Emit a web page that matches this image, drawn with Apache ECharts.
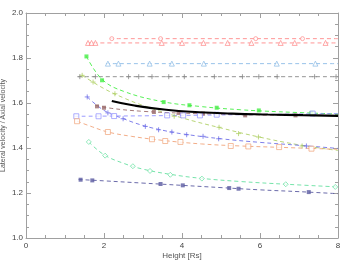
<!DOCTYPE html>
<html><head><meta charset="utf-8">
<script src="https://cdn.jsdelivr.net/npm/echarts@6/dist/echarts.min.js"></script>
<style>html,body{margin:0;padding:0;background:#fff}#c{width:341px;height:263px}</style>
</head><body><div id="c"></div>
<script>
const xTicks = [0, 2, 4, 6, 8];
const yTicks = [1.0, 1.2, 1.4, 1.6, 1.8, 2.0];

// marker points and fitted (dashed) curves for each run
const redCircPts = [[2.2,1.886],[3.45,1.886],[5.89,1.886],[7.09,1.886]];
const redCircFit = [[2.15,1.886],[8,1.886]];
const redTriPts = [[1.59,1.867],[1.68,1.867],[1.78,1.867],[3.48,1.867],[4.0,1.867],[4.55,1.867],[5.17,1.867],[5.78,1.867],[6.53,1.867],[6.89,1.867],[7.68,1.867]];
const redTriFit = [[1.55,1.867],[8,1.867]];
const blueTriPts = [[2.1,1.775],[2.37,1.775],[3.17,1.775],[3.74,1.775],[4.56,1.775],[6.43,1.775],[7.42,1.775]];
const blueTriFit = [[2.05,1.775],[8,1.775]];
const grayPlusPts = [[1.38,1.717],[1.78,1.717],[2.63,1.717],[2.89,1.717],[3.23,1.717],[3.66,1.717],[4.06,1.717],[4.83,1.717],[5.55,1.717],[5.97,1.717],[6.44,1.717],[7.40,1.717],[7.95,1.717]];
const grayPlusFit = [[1.33,1.717],[8,1.717]];
const greenPts = [[1.55,1.807],[1.95,1.701],[3.53,1.604],[4.19,1.590],[4.89,1.579],[5.97,1.567],[7.32,1.556]];
const greenFit = [[1.55,1.807],[1.95,1.705],[2.5,1.652],[3.5,1.606],[4.5,1.584],[5.5,1.570],[6.5,1.561],[8,1.551]];
const olivePts = [[1.44,1.723],[1.72,1.693],[2.28,1.641],[3.80,1.541],[4.95,1.492],[5.45,1.464],[5.96,1.449],[7.08,1.409]];
const oliveFit = [[1.44,1.723],[2.0,1.664],[2.5,1.623],[3.0,1.589],[4.0,1.534],[5.0,1.489],[6.0,1.448],[7.0,1.414],[8,1.389]];
const brownPts = [[1.82,1.585],[2.0,1.579],[3.28,1.560],[3.91,1.556],[4.54,1.553],[5.62,1.545],[6.91,1.545]];
const brownFit = [[1.78,1.590],[2.2,1.576],[3.0,1.563],[4.0,1.555],[5.0,1.550],[6.0,1.547],[8,1.544]];
const blueStarPts = [[1.57,1.627],[2.1,1.556],[2.49,1.530],[3.06,1.496],[3.40,1.481],[3.74,1.471],[4.12,1.459],[4.54,1.452],[4.94,1.441],[7.19,1.409]];
const blueStarFit = [[1.57,1.627],[2.0,1.567],[2.5,1.530],[3.0,1.500],[3.5,1.479],[4.0,1.463],[5.0,1.441],[6.0,1.425],[7.0,1.412],[8,1.398]];
const blueSqPts = [[1.29,1.541],[1.86,1.541],[2.26,1.542],[3.62,1.545],[4.03,1.545],[4.46,1.545],[4.89,1.548],[7.35,1.553]];
const blueSqFit = [[1.25,1.541],[3.0,1.543],[5.0,1.547],[8,1.553]];
const orangePts = [[1.31,1.519],[2.10,1.471],[3.23,1.439],[3.57,1.431],[3.96,1.427],[5.25,1.409],[5.70,1.407],[6.49,1.404],[7.32,1.397]];
const orangeFit = [[1.31,1.519],[1.7,1.494],[2.1,1.471],[2.7,1.452],[3.5,1.434],[4.5,1.418],[5.5,1.409],[6.5,1.403],[8,1.394]];
const mintPts = [[1.61,1.427],[2.03,1.366],[2.74,1.319],[3.18,1.298],[3.70,1.281],[4.51,1.264],[6.66,1.239],[7.93,1.227]];
const mintFit = [[1.61,1.427],[2.0,1.370],[2.5,1.332],[3.0,1.306],[3.7,1.283],[4.5,1.265],[5.5,1.251],[6.66,1.239],[8,1.227]];
const navyPts = [[1.40,1.259],[1.70,1.256],[3.45,1.240],[4.02,1.234],[5.21,1.222],[5.45,1.219],[7.25,1.204]];
const navyFit = [[1.35,1.260],[2.0,1.254],[3.0,1.244],[4.0,1.234],[5.0,1.224],[6.0,1.214],[7.0,1.206],[8,1.197]];
const blackModel = [[2.2,1.609],[2.74,1.590],[3.59,1.570],[4.44,1.559],[5.29,1.553],[6.2,1.549],[7.1,1.546],[8,1.543]];

const PLUS = 'path://M0,5L10,5M5,0L5,10';
const runs = [
  {pts: redCircPts, fit: redCircFit, color: '#ff8a8a', symbol: 'circle', hollow: true, size: 4},
  {pts: redTriPts, fit: redTriFit, color: '#ff8a8a', symbol: 'triangle', hollow: true, size: 5},
  {pts: blueTriPts, fit: blueTriFit, color: '#8cbbe6', symbol: 'triangle', hollow: true, size: 5},
  {pts: grayPlusPts, fit: grayPlusFit, color: '#8a8a8a', symbol: PLUS, size: 5},
  {pts: greenPts, fit: greenFit, color: '#44ee44', symbol: 'rect', size: 4},
  {pts: olivePts, fit: oliveFit, color: '#b0d066', symbol: PLUS, size: 5},
  {pts: brownPts, fit: brownFit, color: '#9a6a6a', symbol: 'rect', size: 4},
  {pts: blueStarPts, fit: blueStarFit, color: '#7070e8', symbol: PLUS, size: 5},
  {pts: blueSqPts, fit: blueSqFit, color: '#8f8fff', symbol: 'rect', hollow: true, size: 5},
  {pts: orangePts, fit: orangeFit, color: '#f0a47a', symbol: 'rect', hollow: true, size: 5},
  {pts: mintPts, fit: mintFit, color: '#66e0a0', symbol: 'diamond', hollow: true, size: 5},
  {pts: navyPts, fit: navyFit, color: '#5a5aa0', symbol: 'rect', size: 4}
];

const series = [];
runs.forEach(r => {
  series.push({type: 'line', data: r.fit, smooth: 0.4, showSymbol: false, silent: true,
    lineStyle: {color: r.color, width: 0.9, type: [4, 3]}, z: 2});
  const isPath = r.symbol.startsWith('path');
  let style;
  if (isPath) style = {color: r.color, borderColor: r.color, borderWidth: 1};
  else if (r.hollow) style = {color: '#ffffff', borderColor: r.color, borderWidth: 0.9};
  else style = {color: r.color};
  series.push({type: 'scatter', data: r.pts, symbol: r.symbol, symbolSize: r.size,
    itemStyle: style, z: 3});
});
series.push({type: 'line', data: blackModel, smooth: true, showSymbol: false,
  lineStyle: {color: '#000', width: 2.2}, z: 5});

const axisCol = '#a0a0a0';
const common = {
  axisLine: {show: true, onZero: false, lineStyle: {color: axisCol, width: 1}},
  axisTick: {show: true, inside: true, length: 5, lineStyle: {color: axisCol}},
  minorTick: {show: true, splitNumber: 4, length: 3, lineStyle: {color: axisCol}},
  splitLine: {show: false}
};
const chart = echarts.init(document.getElementById('c'), null, {renderer: 'canvas'});
chart.setOption({
  animation: false,
  backgroundColor: '#fff',
  grid: {left: 26, right: 3, top: 13, bottom: 25, containLabel: false, outerBoundsMode: 'none'},
  xAxis: [
    Object.assign({type: 'value', min: xTicks[0], max: xTicks[xTicks.length-1], interval: 2, position: 'bottom',
      name: 'Height [Rs]', nameLocation: 'middle', nameGap: 14, nameMoveOverlap: false,
      nameTextStyle: {fontFamily: 'Liberation Sans', fontSize: 8, color: '#555'},
      axisLabel: {fontFamily: 'Liberation Sans', fontSize: 8, color: '#444', margin: 4}}, common),
    Object.assign({type: 'value', min: xTicks[0], max: xTicks[xTicks.length-1], interval: 2, position: 'top',
      axisLabel: {show: false}}, common)
  ],
  yAxis: [
    Object.assign({type: 'value', min: yTicks[0], max: yTicks[yTicks.length-1], interval: 0.2, position: 'left',
      name: 'Lateral velocity / Axial velocity', nameLocation: 'middle', nameGap: 19, nameRotate: 90,
      nameMoveOverlap: false,
      nameTextStyle: {fontFamily: 'Liberation Sans', fontSize: 7, color: '#555'},
      axisLabel: {fontFamily: 'Liberation Sans', fontSize: 8, color: '#444', margin: 3,
        formatter: v => v.toFixed(1)}}, common),
    Object.assign({type: 'value', min: yTicks[0], max: yTicks[yTicks.length-1], interval: 0.2, position: 'right',
      axisLabel: {show: false}}, common)
  ],
  series: series
});
</script></body></html>
